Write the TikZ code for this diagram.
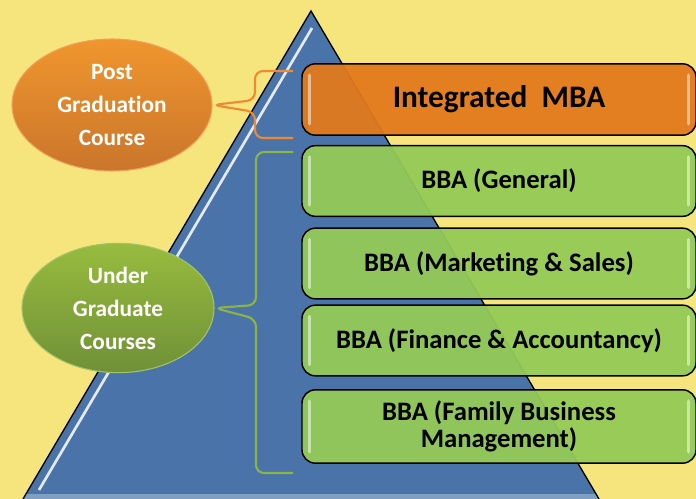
\documentclass[tikz,border=0pt]{standalone}
\usepackage{fontspec}
\setmainfont{Carlito}[Ligatures=NoCommon]
\usetikzlibrary{shapes.geometric}

\definecolor{paper}{HTML}{F6E57C}
\definecolor{pyramid}{HTML}{4A74A9}
\definecolor{mbaorange}{HTML}{E27A1C}
\definecolor{bbagreen}{HTML}{93CA56}
\definecolor{pgorange}{HTML}{EE8A33}
\definecolor{uggreen}{HTML}{8CB445}

\tikzset{
  coursebox/.style={draw=black, line width=1.1pt, rounded corners=10pt,
    minimum width=295.5pt, minimum height=53pt, fill opacity=0.95, text opacity=1,
    font=\bfseries\fontsize{20}{20.5}\selectfont, align=center},
  levelbubble/.style={ellipse, draw=#1!80!white, line width=0.8pt, text=white,
    font=\bfseries\fontsize{17.5}{24.75}\selectfont, align=center,
    minimum width=150pt, minimum height=99pt, inner sep=0pt},
  bracket/.style={line width=1.6pt, rounded corners=6pt},
  shine/.style={white, line width=2.5pt, line cap=round, opacity=0.5}
}

\begin{document}
\begin{tikzpicture}[x=0.75pt,y=0.75pt,yscale=-1,xscale=1]
\useasboundingbox (0,0) rectangle (696,499);
\fill[paper] (0,0) rectangle (696,499);

% pyramid
\fill[pyramid] (311,11) -- (23,499) -- (599,499) -- cycle;
\begin{scope}
  \clip (311,11) -- (23,499) -- (599,499) -- cycle;
  \fill[white, opacity=0.3] (0,494) rectangle (696,499);
\end{scope}
\draw[line width=1pt] (23,499) -- (311,11) -- (599,499);
\draw[white, line width=2pt, opacity=0.85] (312,28) -- (39,490);

% course boxes
\node[coursebox, fill=mbaorange, minimum height=53.5pt, font=\bfseries\fontsize{23.5}{25}\selectfont] (mba) at (499,99.5) {Integrated\ \ MBA};
\node[coursebox, fill=bbagreen] (general) at (499,181) {BBA (General)};
\node[coursebox, fill=bbagreen] (marketing) at (499,263.5) {BBA (Marketing \& Sales)};
\node[coursebox, fill=bbagreen] (finance) at (499,340.5) {BBA (Finance \& Accountancy)};
\node[coursebox, fill=bbagreen, minimum height=55pt] (family) at (499,426.5) {BBA (Family Business\\Management)};

% glossy end marks
\foreach \n in {mba,general,marketing,finance,family}{
  \draw[shine] ([xshift=6pt,yshift=9pt]\n.north west) -- ([xshift=6pt,yshift=-9pt]\n.south west);
  \draw[shine] ([xshift=-6pt,yshift=9pt]\n.north east) -- ([xshift=-6pt,yshift=-9pt]\n.south east);
}

% level bubbles
\node[levelbubble=pgorange, top color=pgorange!90!yellow, bottom color=pgorange!85!black] (pg) at (112,105) {Post\\Graduation\\Course};
\node[levelbubble=uggreen, top color=uggreen!90!yellow, bottom color=uggreen!80!black, minimum width=144pt, minimum height=97pt] (ug) at (118,308) {Under\\Graduate\\Courses};

% brackets
\coordinate (pgtop) at (293,71);
\coordinate (pgbot) at (293,138);
\coordinate (ugtop) at (293,152);
\coordinate (ugbot) at (293,473);
\draw[bracket, pgorange] (pgtop) -- (255,71) -- (255,100) -- (pg.east) -- (255,112) -- (255,138) -- (pgbot);
\draw[bracket, uggreen] (ugtop) -- (256,152) -- (256,305) -- (ug.east) -- (256,319) -- (256,473) -- (ugbot);

\end{tikzpicture}
\end{document}
